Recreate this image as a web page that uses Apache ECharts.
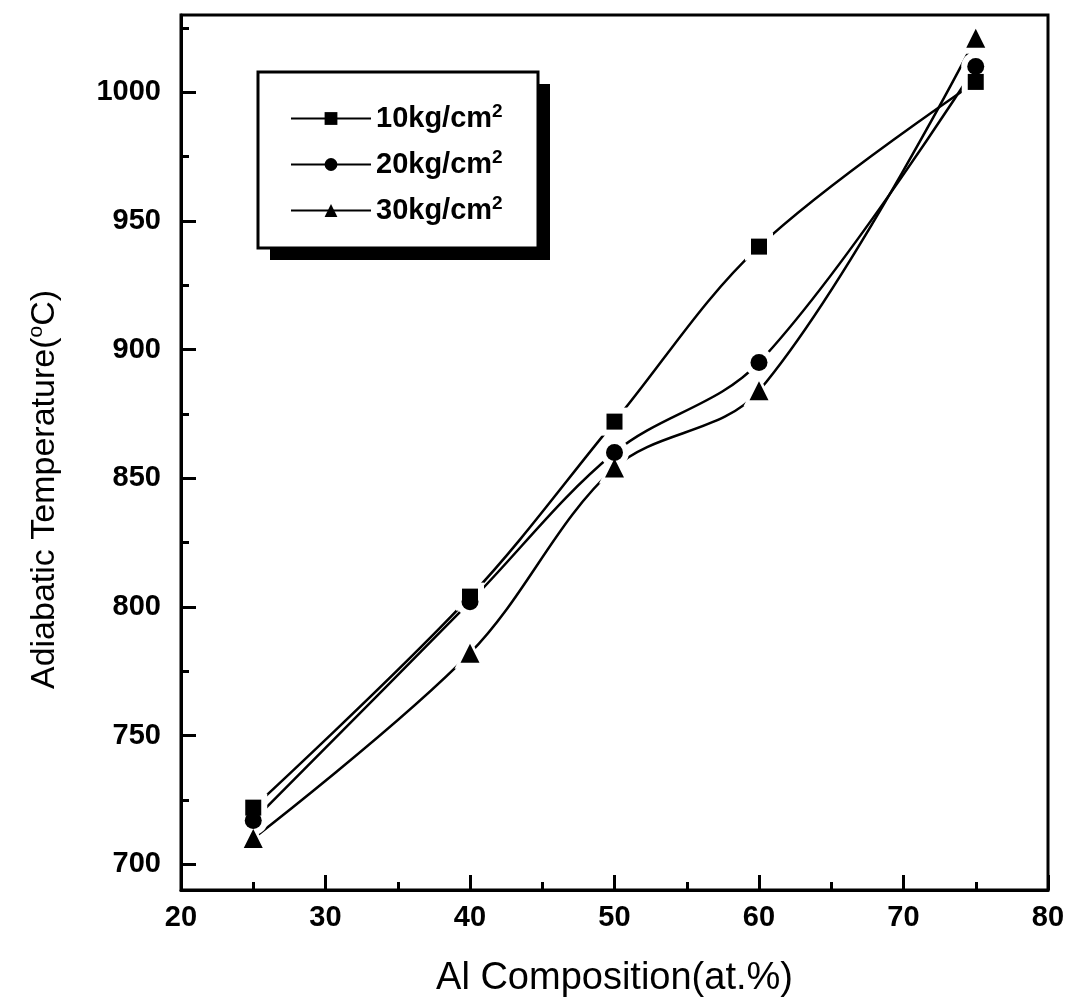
<!DOCTYPE html>
<html>
<head>
  <meta charset="UTF-8">
  <title>Adiabatic Temperature vs Al Composition</title>
  <script src="https://cdn.jsdelivr.net/npm/echarts@6/dist/echarts.min.js"></script>
  <style>
    body { margin: 0; padding: 0; background: #fff; }
    #chart { width: 1087px; height: 1003px; }
  </style>
</head>
<body>
  <div id="chart"></div>
  <script>
    // data
    var alComp = [25, 40, 50, 60, 75];
    var temp10 = [722, 804, 872, 940, 1004];
    var temp20 = [717, 802, 860, 895, 1010];
    var temp30 = [710, 782, 854, 884, 1021];
    var seriesNames = ['10kg/cm2', '20kg/cm2', '30kg/cm2'];
    var seriesSymbols = ['rect', 'circle', 'triangle'];
    var markerSizes = [16, 17, 19];
    var yMajorTicks = [700, 750, 800, 850, 900, 950, 1000];
    var yMinorTicks = [725, 775, 825, 875, 925, 975, 1025];

    var font = 'Liberation Sans, Arial, sans-serif';
    var chart = echarts.init(document.getElementById('chart'));

    function pairs(ys) {
      return alComp.map(function (x, i) { return [x, ys[i]]; });
    }

    var allData = [temp10, temp20, temp30];
    var series = [];
    // curves
    allData.forEach(function (ys, i) {
      series.push({
        name: seriesNames[i],
        type: 'line',
        data: pairs(ys),
        smooth: 0.35,
        symbol: seriesSymbols[i],
        showSymbol: false,
        lineStyle: { color: '#000', width: 2.5 },
        itemStyle: { color: '#000' },
        emphasis: { disabled: true },
        silent: true,
        z: 2
      });
    });
    // white halo so the curves stop short of the markers
    allData.forEach(function (ys, i) {
      series.push({
        name: 'halo' + i,
        type: 'scatter',
        data: pairs(ys),
        symbol: seriesSymbols[i],
        symbolSize: markerSizes[i] + 12,
        itemStyle: { color: '#fff', opacity: 1 },
        silent: true,
        z: 3
      });
    });
    // markers
    allData.forEach(function (ys, i) {
      series.push({
        name: 'mark' + i,
        type: 'scatter',
        data: pairs(ys),
        symbol: seriesSymbols[i],
        symbolSize: markerSizes[i],
        itemStyle: { color: '#000', opacity: 1 },
        silent: true,
        z: 4
      });
    });

    var option = {
      animation: false,
      backgroundColor: '#fff',
      grid: {
        left: 181, right: 39, top: 15, bottom: 113,
        show: true, borderColor: '#000', borderWidth: 3
      },
      // legend frame with its drop shadow
      graphic: [
        { type: 'rect', z: 5, shape: { x: 270, y: 84, width: 280, height: 176 }, style: { fill: '#000' } },
        { type: 'rect', z: 6, shape: { x: 258, y: 72, width: 280, height: 176 }, style: { fill: '#fff', stroke: '#000', lineWidth: 3 } }
      ],
      legend: {
        orient: 'vertical',
        left: 258, top: 72,
        z: 10,
        padding: [30, 20, 20, 32],
        itemGap: 15,
        itemWidth: 80,
        itemHeight: 16,
        data: seriesNames,
        formatter: function (n) { return n.slice(0, -1) + '{sup|2}'; },
        textStyle: {
          fontFamily: font, fontSize: 29, fontWeight: 'bold', color: '#000',
          rich: {
            sup: { fontFamily: font, fontSize: 19, fontWeight: 'bold', color: '#000', padding: [0, 0, 14, 0] }
          }
        }
      },
      xAxis: {
        type: 'value',
        min: 20, max: 80, interval: 10,
        name: 'Al Composition(at.%)',
        nameLocation: 'middle',
        nameGap: 70,
        nameTextStyle: { fontFamily: font, fontSize: 38, color: '#000' },
        axisLine: { lineStyle: { color: '#000', width: 3 } },
        axisTick: { inside: true, length: 15, lineStyle: { color: '#000', width: 3 } },
        minorTick: { show: true, splitNumber: 2, length: 8, lineStyle: { color: '#000', width: 3 } },
        splitLine: { show: false },
        axisLabel: { fontFamily: font, fontSize: 29, fontWeight: 'bold', color: '#000', margin: 13 }
      },
      yAxis: [
        {
          type: 'value',
          min: 690, max: 1030,
          name: 'Adiabatic Temperature({sup|o}C)',
          nameLocation: 'middle',
          nameGap: 118,
          nameRotate: 90,
          nameTextStyle: {
            fontFamily: font, fontSize: 34, color: '#000',
            padding: [0, 74, 0, 0],
            rich: { sup: { fontFamily: font, fontSize: 21, color: '#000', padding: [0, 0, 16, 0] } }
          },
          axisLine: { lineStyle: { color: '#000', width: 3 } },
          axisTick: { inside: true, length: 15, customValues: yMajorTicks, lineStyle: { color: '#000', width: 3 } },
          splitLine: { show: false },
          axisLabel: {
            fontFamily: font, fontSize: 29, fontWeight: 'bold', color: '#000', margin: 20,
            customValues: yMajorTicks,
            formatter: function (v) { return String(v); }
          }
        },
        {
          type: 'value',
          position: 'left',
          min: 690, max: 1030,
          axisLine: { show: false },
          axisTick: { inside: true, length: 8, customValues: yMinorTicks, lineStyle: { color: '#000', width: 3 } },
          axisLabel: { show: false },
          splitLine: { show: false }
        }
      ],
      series: series
    };

    chart.setOption(option);
  </script>
</body>
</html>
